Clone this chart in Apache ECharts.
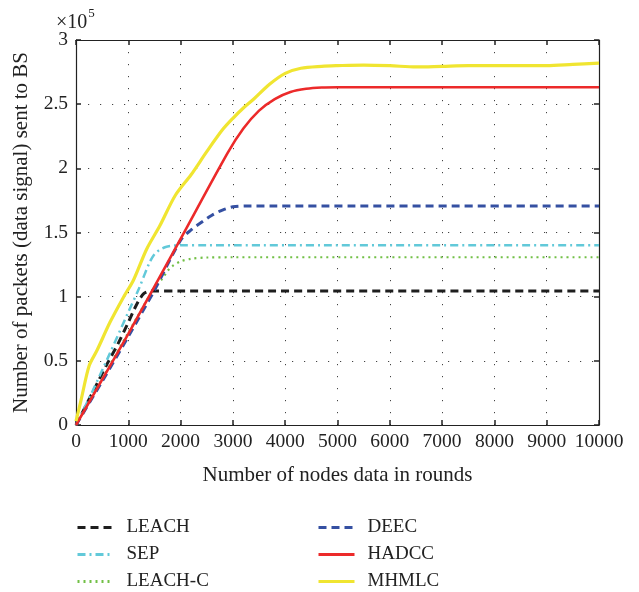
<!DOCTYPE html>
<html>
<head>
<meta charset="utf-8">
<title>Packets sent to BS</title>
<script src="https://cdn.jsdelivr.net/npm/echarts@6/dist/echarts.min.js"></script>
<style>
  html, body { margin: 0; padding: 0; background: #fff; }
  #chart { width: 639px; height: 592px; }
</style>
</head>
<body>
<div id="chart"></div>
<script>
// Packets delivered to the base station (units of 1e5) against rounds.
const leachRounds = [0, 200, 400, 600, 800, 1000, 1100, 1200, 1300, 1400, 1500, 2000, 10000];
const leachValues = [0, 0.16, 0.32, 0.48, 0.63, 0.80, 0.89, 0.97, 1.025, 1.043, 1.045, 1.045, 1.045];

const sepRounds = [0, 300, 650, 1000, 1200, 1400, 1500, 1600, 1700, 1800, 2000, 2500, 10000];
const sepValues = [0, 0.25, 0.56, 0.88, 1.06, 1.26, 1.33, 1.365, 1.385, 1.395, 1.40, 1.40, 1.40];

const leachCRounds = [0, 500, 1000, 1500, 1650, 1750, 1850, 2000, 2200, 2500, 3000, 10000];
const leachCValues = [0, 0.36, 0.72, 1.07, 1.14, 1.20, 1.24, 1.275, 1.295, 1.305, 1.307, 1.307];

const deecRounds = [0, 500, 1000, 1500, 2000, 2200, 2400, 2600, 2800, 3000, 3300, 10000];
const deecValues = [0, 0.34, 0.69, 1.05, 1.44, 1.52, 1.58, 1.635, 1.675, 1.70, 1.707, 1.707];

const hadccRounds = [0, 1000, 2000, 2900, 3200, 3500, 3800, 4100, 4400, 4700, 5000, 6000, 10000];
const hadccValues = [0, 0.71, 1.45, 2.12, 2.31, 2.45, 2.54, 2.595, 2.62, 2.63, 2.632, 2.632, 2.632];

const mhmlcRounds = [0, 100, 250, 400, 650, 900, 1100, 1350, 1600, 1900, 2200, 2500, 2800, 3000, 3200, 3400, 3700, 4000, 4300, 4700, 5000, 5500, 6000, 6500, 7000, 7500, 8000, 9000, 9500, 10000];
const mhmlcValues = [0.03, 0.2, 0.46, 0.58, 0.8, 0.99, 1.13, 1.37, 1.55, 1.79, 1.95, 2.13, 2.3, 2.39, 2.47, 2.54, 2.655, 2.74, 2.78, 2.795, 2.8, 2.805, 2.8, 2.79, 2.795, 2.8, 2.8, 2.8, 2.81, 2.82];

const xTicks = [0, 1000, 2000, 3000, 4000, 5000, 6000, 7000, 8000, 9000, 10000];
const yTicks = [0, 0.5, 1, 1.5, 2, 2.5, 3];

const FONT = 'Liberation Serif';
const INK = '#222';

function pairs(xs, ys) {
  return xs.map((x, i) => [x, ys[i]]);
}

function lineSeries(name, xs, ys, color, width, dash) {
  return {
    name: name,
    type: 'line',
    data: pairs(xs, ys),
    showSymbol: false,
    symbol: 'none',
    smooth: 0.3,
    lineStyle: { color: color, width: width, type: dash },
    itemStyle: { color: color },
    emphasis: { disabled: true },
    animation: false,
    z: 3
  };
}

const gridDots = { color: '#444', width: 1, type: [1.2, 10.8] };

const legendCommon = {
  orient: 'vertical',
  top: 513,
  height: 80,
  itemWidth: 36,
  itemHeight: 14,
  itemGap: 8,
  itemStyle: { color: 'rgba(0,0,0,0)', borderWidth: 0, opacity: 0 },
  lineStyle: { width: 3 },
  textStyle: { fontFamily: FONT, fontSize: 19, lineHeight: 19, color: INK, padding: [0, 0, 0, 8] }
};

const chart = echarts.init(document.getElementById('chart'), null, { renderer: 'canvas' });

chart.setOption({
  backgroundColor: '#fff',
  animation: false,
  textStyle: { fontFamily: FONT },
  grid: { left: 76, right: 40, top: 40, bottom: 167, containLabel: false },
  graphic: [{
    type: 'text',
    left: 56,
    top: 7,
    style: {
      text: '{a|×10}{b|5}',
      rich: {
        a: { fontFamily: FONT, fontSize: 20, fill: INK, verticalAlign: 'bottom', lineHeight: 26 },
        b: { fontFamily: FONT, fontSize: 13, fill: INK, verticalAlign: 'top', lineHeight: 26, padding: [0, 0, 11, 1] }
      }
    }
  }],
  legend: [
    Object.assign({ data: ['LEACH', 'SEP', 'LEACH-C'], left: 71 }, legendCommon),
    Object.assign({ data: ['DEEC', 'HADCC', 'MHMLC'], left: 312 }, legendCommon)
  ],
  xAxis: [{
    type: 'value',
    min: 0,
    max: 10000,
    interval: 1000,
    position: 'bottom',
    name: 'Number of nodes data in rounds',
    nameLocation: 'middle',
    nameGap: 40,
    nameTextStyle: { fontFamily: FONT, fontSize: 21, color: INK },
    axisLine: { show: true, onZero: false, lineStyle: { color: INK, width: 1.2 } },
    axisTick: { show: true, inside: true, length: 5, lineStyle: { color: INK, width: 1.5 } },
    axisLabel: {
      fontFamily: FONT, fontSize: 19.5, color: INK, margin: 7,
      formatter: v => (xTicks.indexOf(v) >= 0 ? String(v) : '')
    },
    splitLine: { show: true, lineStyle: gridDots }
  }, {
    type: 'value',
    min: 0,
    max: 10000,
    interval: 1000,
    position: 'top',
    axisLine: { show: true, onZero: false, lineStyle: { color: INK, width: 1.2 } },
    axisTick: { show: true, inside: true, length: 5, lineStyle: { color: INK, width: 1.5 } },
    axisLabel: { show: false },
    splitLine: { show: false }
  }],
  yAxis: [{
    type: 'value',
    min: 0,
    max: 3,
    interval: 0.5,
    position: 'left',
    name: 'Number of packets (data signal) sent to BS',
    nameLocation: 'middle',
    nameGap: 44,
    nameTextStyle: { fontFamily: FONT, fontSize: 21, color: INK },
    axisLine: { show: true, onZero: false, lineStyle: { color: INK, width: 1.2 } },
    axisTick: { show: true, inside: true, length: 5, lineStyle: { color: INK, width: 1.5 } },
    axisLabel: {
      fontFamily: FONT, fontSize: 19.5, color: INK, margin: 8,
      formatter: v => (yTicks.indexOf(v) >= 0 ? String(v) : '')
    },
    splitLine: { show: true, lineStyle: gridDots }
  }, {
    type: 'value',
    min: 0,
    max: 3,
    interval: 0.5,
    position: 'right',
    axisLine: { show: true, onZero: false, lineStyle: { color: INK, width: 1.2 } },
    axisTick: { show: true, inside: true, length: 5, lineStyle: { color: INK, width: 1.5 } },
    axisLabel: { show: false },
    splitLine: { show: false }
  }],
  series: [
    lineSeries('LEACH', leachRounds, leachValues, '#1e1e1e', 3, [8, 5]),
    lineSeries('SEP', sepRounds, sepValues, '#62c9d9', 2.5, [8, 4, 2, 4]),
    lineSeries('LEACH-C', leachCRounds, leachCValues, '#72c046', 2.2, [2, 4]),
    lineSeries('DEEC', deecRounds, deecValues, '#3550a2', 3, [8, 5]),
    lineSeries('HADCC', hadccRounds, hadccValues, '#ec2a2a', 2.6, 'solid'),
    lineSeries('MHMLC', mhmlcRounds, mhmlcValues, '#f0e531', 3.2, 'solid')
  ]
});
</script>
</body>
</html>
